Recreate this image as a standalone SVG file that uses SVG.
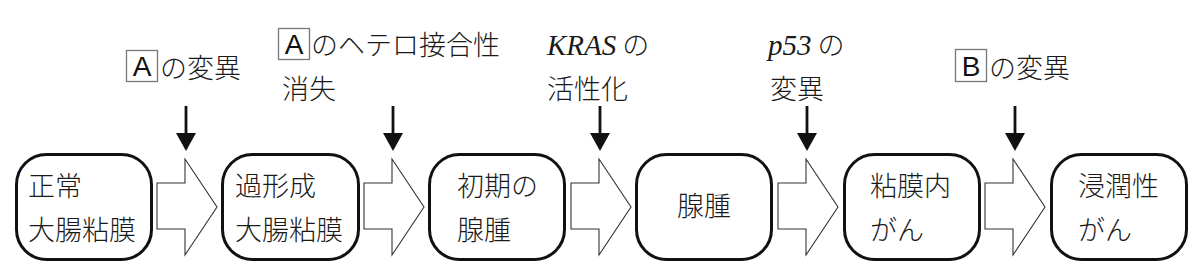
<svg xmlns="http://www.w3.org/2000/svg" width="1200" height="280" viewBox="0 0 1200 280">
<style>
.jp{font-family:"Noto Sans CJK JP","Noto Sans CJK SC",sans-serif;font-size:27px;font-weight:300;fill:#1a1a1a}
.it{font-family:"Liberation Serif",serif;font-style:italic;font-size:29px;font-weight:400}
.node{fill:#fff;stroke:#111;stroke-width:3}
.blk{fill:#fff;stroke:#333;stroke-width:1.1;stroke-linejoin:miter}
.vline{stroke:#111;stroke-width:2.8}
.head{fill:#111}
.lbox{fill:#fff;stroke:#777;stroke-width:1.3}
.lt{font-family:"Liberation Sans",Arial,sans-serif;font-size:28px;fill:#111;text-anchor:middle}
</style>
<defs>
<path id="blkarrow" class="blk" d="M157,183 H185 V159 L217,207 L185,255 V229 H157 Z"/>
<g id="down"><line class="vline" x1="0" y1="106" x2="0" y2="136"/><polygon class="head" points="-10,133 10,133 0,151"/></g>
</defs>
<rect width="1200" height="280" fill="#fff"/>
<g id="connectors">
<use href="#blkarrow"/>
<use href="#blkarrow" x="207"/>
<use href="#blkarrow" x="414"/>
<use href="#blkarrow" x="621"/>
<use href="#blkarrow" x="828"/>
<use href="#down" x="186"/>
<use href="#down" x="393"/>
<use href="#down" x="600"/>
<use href="#down" x="807"/>
<use href="#down" x="1015"/>
</g>
<g id="n1"><rect class="node" x="16.5" y="154.5" width="135" height="105" rx="30"/><text class="jp" x="28" y="196">正常</text><text class="jp" x="28" y="240">大腸粘膜</text></g>
<g id="n2"><rect class="node" x="222.5" y="154.5" width="136" height="105" rx="30"/><text class="jp" x="235" y="196">過形成</text><text class="jp" x="235" y="240">大腸粘膜</text></g>
<g id="n3"><rect class="node" x="429.5" y="154.5" width="135" height="105" rx="30"/><text class="jp" x="457" y="196">初期の</text><text class="jp" x="457" y="240">腺腫</text></g>
<g id="n4"><rect class="node" x="636.5" y="154.5" width="135" height="105" rx="30"/><text class="jp" x="704" y="216" text-anchor="middle">腺腫</text></g>
<g id="n5"><rect class="node" x="844.5" y="154.5" width="135" height="105" rx="30"/><text class="jp" x="870" y="196">粘膜内</text><text class="jp" x="870" y="240">がん</text></g>
<g id="n6"><rect class="node" x="1051.5" y="154.5" width="135" height="105" rx="30"/><text class="jp" x="1078" y="196">浸潤性</text><text class="jp" x="1078" y="240">がん</text></g>
<g id="label1"><rect class="lbox" x="126.5" y="50.5" width="31" height="31"/><text class="lt" x="142" y="76">A</text><text class="jp" x="160" y="78">の変異</text></g>
<g id="label2"><rect class="lbox" x="278.5" y="28.5" width="31" height="31"/><text class="lt" x="294" y="54">A</text><text class="jp" x="311" y="55">のヘテロ接合性</text><text class="jp" x="282" y="99">消失</text></g>
<g id="label3"><text class="jp" x="547" y="55"><tspan class="it">KRAS</tspan><tspan dx="6">の</tspan></text><text class="jp" x="547" y="99">活性化</text></g>
<g id="label4"><text class="jp" x="768" y="55"><tspan class="it">p53</tspan><tspan dx="6">の</tspan></text><text class="jp" x="770" y="99">変異</text></g>
<g id="label5"><rect class="lbox" x="955.5" y="49.5" width="31" height="32"/><text class="lt" x="971" y="76">B</text><text class="jp" x="989" y="78">の変異</text></g>
</svg>
